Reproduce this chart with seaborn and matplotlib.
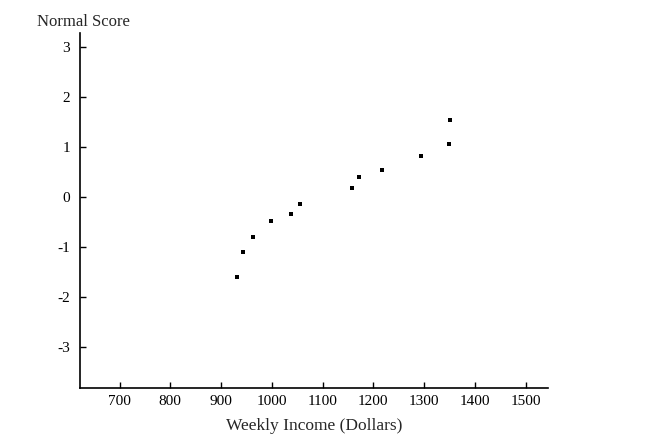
import pandas as pd
import seaborn as sns
import matplotlib.pyplot as plt

# values
income = [932, 943, 962, 998, 1038, 1055, 1158, 1171, 1217, 1293, 1350, 1352]
score = [-1.61, -1.11, -0.81, -0.48, -0.34, -0.15, 0.18, 0.40, 0.54, 0.81, 1.06, 1.53]
xticks = [700, 800, 900, 1000, 1100, 1200, 1300, 1400, 1500]
yticks = [-3, -2, -1, 0, 1, 2, 3]

df = pd.DataFrame({'income': income, 'score': score})

sns.set_style('ticks')
plt.rcParams['font.family'] = ['Liberation Serif', 'DejaVu Serif']
plt.rcParams['axes.unicode_minus'] = False

fig = plt.figure(figsize=(6.5, 4.41), dpi=100)
ax = fig.add_axes([0.123, 0.1195, 0.72, 0.805])

sns.scatterplot(data=df, x='income', y='score', marker='s', s=12,
                color='black', edgecolor='black', linewidth=0, ax=ax)

ax.set_xlim(622, 1544)
ax.set_ylim(-3.83, 3.27)
ax.set_xticks(xticks)
ax.set_yticks(yticks)
ax.tick_params(direction='in', length=4, width=1, labelsize=11, colors='black')
ax.tick_params(axis='y', pad=7)
ax.tick_params(axis='x', pad=5)
for s in ['top', 'right']:
    ax.spines[s].set_visible(False)
for s in ['left', 'bottom']:
    ax.spines[s].set_linewidth(1.2)
    ax.spines[s].set_color('black')

ax.set_xlabel('Weekly Income (Dollars)', fontsize=12.5, labelpad=7)
ax.set_ylabel('')
fig.text(0.129, 0.95, 'Normal Score', fontsize=12, ha='center', va='center')

fig.savefig('out.png', dpi=100)
